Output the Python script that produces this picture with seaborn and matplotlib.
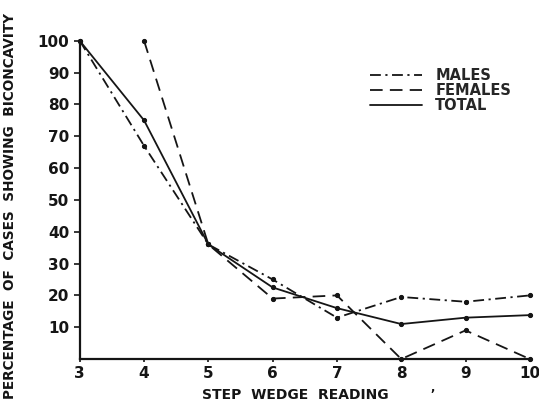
import matplotlib
matplotlib.use("Agg")
import matplotlib.pyplot as plt
import seaborn as sns
from matplotlib.lines import Line2D

# step wedge readings and percentage of cases showing biconcavity
steps = [3, 4, 5, 6, 7, 8, 9, 10]
males = [100, 67, 36, 25, 13, 19.5, 18, 20]
females_steps = [4, 5, 6, 7, 8, 9, 10]
females = [100, 36, 19, 20, 0, 9, 0]
total = [100, 75, 36, 22.5, 16, 11, 13, 13.8]

sns.set_style("ticks")
plt.rcParams["font.family"] = ["DejaVu Sans"]
plt.rcParams["font.weight"] = "bold"

fig = plt.figure(figsize=(5.39, 4.08), dpi=100)
ax = fig.add_axes([0.148, 0.12, 0.835, 0.78])

ink = "#151515"
male_ls = (0, (6, 2.5, 1.2, 2.5))
fem_ls = (0, (7, 4))

sns.lineplot(x=steps, y=males, ax=ax, color=ink, lw=1.3, linestyle=male_ls,
             marker="o", markersize=3, markeredgecolor=ink, clip_on=False)
sns.lineplot(x=females_steps, y=females, ax=ax, color=ink, lw=1.3, linestyle=fem_ls,
             marker="o", markersize=3, markeredgecolor=ink, clip_on=False)
sns.lineplot(x=steps, y=total, ax=ax, color=ink, lw=1.3, linestyle="-",
             marker="o", markersize=3, markeredgecolor=ink, clip_on=False)

ax.set_xlim(3, 10)
ax.set_ylim(0, 100)
ax.set_xticks(steps)
ax.set_xticklabels([str(s) for s in steps])
ax.set_yticks(range(10, 101, 10))
ax.tick_params(axis="both", labelsize=11, width=1.2, length=4, color=ink, labelcolor=ink)
ax.tick_params(axis="x", length=2, pad=3)
for s in ["left", "bottom"]:
    ax.spines[s].set_linewidth(1.6)
    ax.spines[s].set_color(ink)
sns.despine(ax=ax)

ax.set_xlabel("STEP  WEDGE  READING", fontsize=10, fontweight="bold", color=ink)
ax.xaxis.set_label_coords(0.48, -0.09)
ax.set_ylabel("PERCENTAGE  OF  CASES  SHOWING  BICONCAVITY", fontsize=9.8,
              fontweight="bold", color=ink)
ax.yaxis.set_label_coords(-0.14, 0.48)
ax.text(0.778, -0.1, ",", transform=ax.transAxes, fontsize=8, color=ink)

handles = [
    Line2D([], [], color=ink, lw=1.3, linestyle=male_ls),
    Line2D([], [], color=ink, lw=1.3, linestyle=fem_ls),
    Line2D([], [], color=ink, lw=1.3, linestyle="-"),
]
ax.legend(handles, ["MALES", "FEMALES", "TOTAL"], loc="upper left",
          bbox_to_anchor=(0.615, 0.955), frameon=False, fontsize=10.5,
          handlelength=3.6, labelspacing=0.0, handletextpad=0.9)

fig.savefig("out.png", dpi=100)
